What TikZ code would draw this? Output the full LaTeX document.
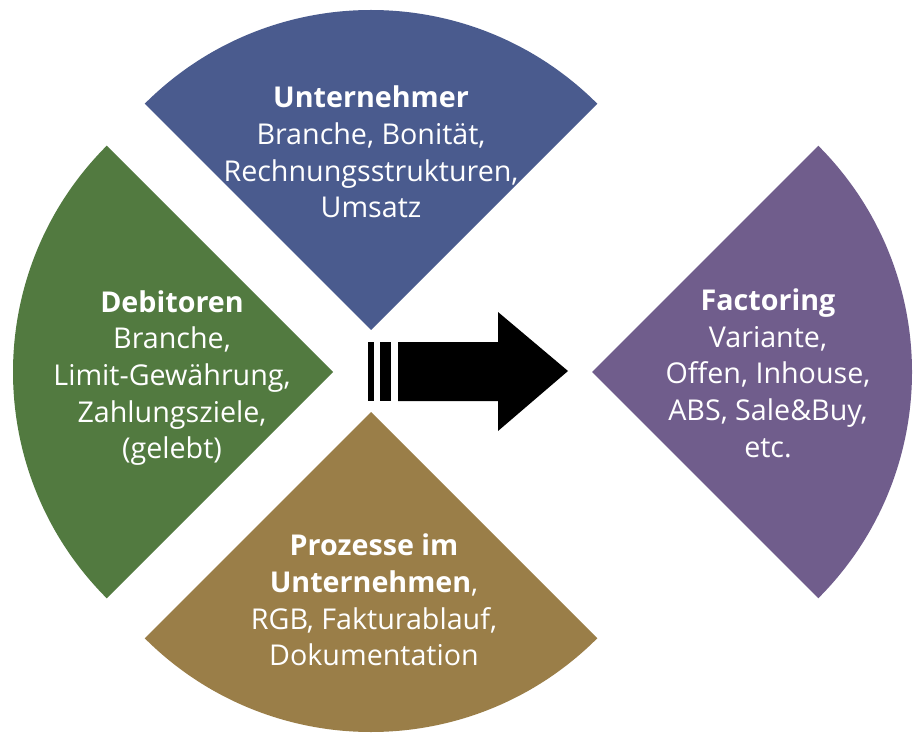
\documentclass[tikz,border=0pt]{standalone}
\usepackage{fontspec}
\setmainfont{Open Sans}
\usepackage{tikz}
\usetikzlibrary{positioning}

\definecolor{unternblue}{HTML}{4A5B8E}
\definecolor{debgreen}{HTML}{527A40}
\definecolor{prozbrown}{HTML}{9A7E48}
\definecolor{factpurple}{HTML}{705D8C}

\begin{document}
\begin{tikzpicture}[
    x=0.75pt, y=-0.75pt,
    sector/.style={draw=none},
    label/.style={text=white, align=center, font=\fontsize{21.5}{27.5}\selectfont},
    stripe/.style={fill=black, draw=none}
]
\useasboundingbox (0,0) rectangle (920,748);

% Unternehmer (top)
\fill[sector, unternblue] (371,330) -- ++(225:320) arc[start angle=225, end angle=315, radius=320] -- cycle;
\node[label] (untern) at (371,152) {\textbf{Unternehmer}\\Branche, Bonität,\\Rechnungsstrukturen,\\Umsatz};

% Debitoren (left)
\fill[sector, debgreen] (333,372) -- ++(225:320) arc[start angle=225, end angle=135, radius=320] -- cycle;
\node[label] (debit) at (172,378) {\textbf{Debitoren}\\Branche,\\Limit-Gewährung,\\Zahlungsziele,\\(gelebt)};

% Prozesse (bottom)
\fill[sector, prozbrown] (371,412) -- ++(135:320) arc[start angle=135, end angle=45, radius=320] -- cycle;
\node[label] (proz) at (374,600) {\textbf{Prozesse im}\\\textbf{Unternehmen},\\RGB, Fakturablauf,\\Dokumentation};

% Factoring (right)
\fill[sector, factpurple] (592,372) -- ++(-45:320) arc[start angle=-45, end angle=45, radius=320] -- cycle;
\node[label] (fact) at (768,373) {\textbf{Factoring}\\Variante,\\Offen, Inhouse,\\ABS, Sale\&Buy,\\etc.};

% arrow
\fill[stripe] (368,342) rectangle (374,401);
\fill[stripe] (380,342) rectangle (391,401);
\fill[stripe] (398,342) -- (498,342) -- (498,312) -- (568,371) -- (498,431) -- (498,401) -- (398,401) -- cycle;

\end{tikzpicture}
\end{document}
